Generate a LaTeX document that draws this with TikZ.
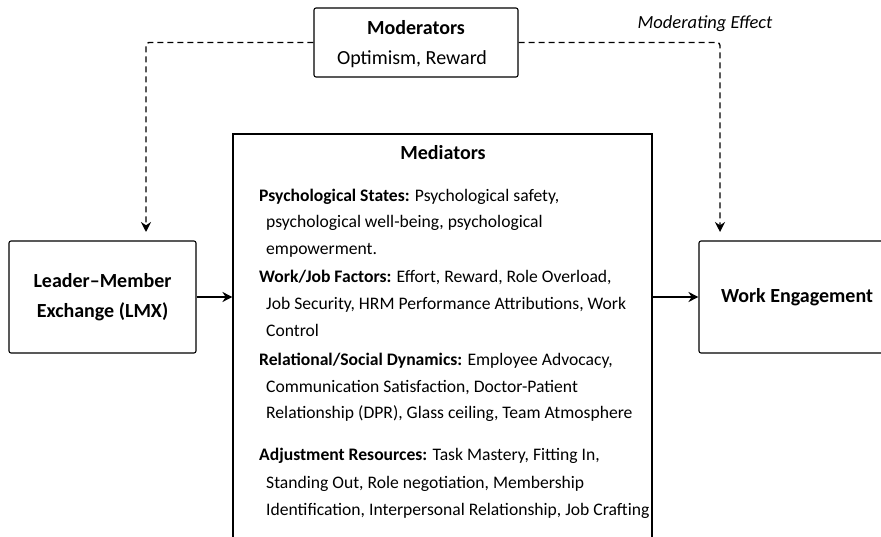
\documentclass[tikz,border=0pt]{standalone}
\usepackage{fontspec}
\setmainfont{Carlito}
\usetikzlibrary{arrows.meta}
\begin{document}
\begin{tikzpicture}[x=1pt,y=-1pt,>={Stealth[length=10pt,width=10pt]}]
	\tikzstyle{box}=[draw=black, line width=1.1pt, rounded corners=2pt, inner sep=0pt, font=\fontsize{20}{30}\selectfont\bfseries, align=center]
	\tikzstyle{medbox}=[draw=black, line width=1.1pt, inner sep=0pt]
	\tikzstyle{item}=[anchor=base west, inner sep=0pt, font=\fontsize{17.6}{20}\selectfont]
	\tikzstyle{title}=[anchor=base, inner sep=0pt, font=\fontsize{20}{24}\selectfont\bfseries]
	\tikzstyle{edge}=[draw=black, line width=1.4pt]
	\tikzstyle{moderate}=[draw=black, line width=1.4pt, dash pattern=on 6pt off 4pt, rounded corners=3pt]

	\useasboundingbox (0,0) rectangle (881,537);
	\clip (0,0) rectangle (881,537);

	 \node [box, minimum width=204, minimum height=69] (mod) at (416,42.5) {};
	 \node [title] (modtitle) at (416,35) {Moderators};
	 \node [title, font=\fontsize{20}{24}\selectfont] (modlist) at (412,65) {Optimism, Reward};
	 \node [title, font=\fontsize{18.5}{22}\selectfont\itshape] (effect) at (705,29) {Moderating Effect};

	 \node [box, minimum width=187, minimum height=112] (lmx) at (102.5,297) {Leader--Member\\Exchange (LMX)};
	 \node [box, minimum width=196, minimum height=112] (we) at (797,297) {Work Engagement};
	 \node [medbox, minimum width=419, minimum height=440] (med) at (442.5,354) {};

	 \node [title] (medtitle) at (443,160) {Mediators};
	 \node [item] (ps1) at (259,202) {\textbf{Psychological States:} Psychological safety,};
	 \node [item] (ps2) at (266,228) {psychological well-being, psychological};
	 \node [item] (ps3) at (266,255) {empowerment.};
	 \node [item] (wj1) at (259,283) {\textbf{Work/Job Factors:} Effort, Reward, Role Overload,};
	 \node [item] (wj2) at (266,310) {Job Security, HRM Performance Attributions, Work};
	 \node [item] (wj3) at (266,337) {Control};
	 \node [item] (rs1) at (259,365) {\textbf{Relational/Social Dynamics:} Employee Advocacy,};
	 \node [item] (rs2) at (266,392) {Communication Satisfaction, Doctor-Patient};
	 \node [item] (rs3) at (266,418) {Relationship (DPR), Glass ceiling, Team Atmosphere};
	 \node [item] (ar1) at (259,460) {\textbf{Adjustment Resources:} Task Mastery, Fitting In,};
	 \node [item] (ar2) at (266,488) {Standing Out, Role negotiation, Membership};
	 \node [item] (ar3) at (266,515) {Identification, Interpersonal Relationship, Job Crafting};

	 \coordinate (lmxin) at (146,232);
	 \coordinate (wein) at (720,232);

	 \path[edge,->] (lmx.east) -- (lmx.east -| med.west);
	 \path[edge,->] (lmx.east -| med.east) -- (we.west);
	 \path[moderate,->] (mod.west) -| (lmxin);
	 \path[moderate,->] (mod.east) -| (wein);

\end{tikzpicture}
\end{document}
